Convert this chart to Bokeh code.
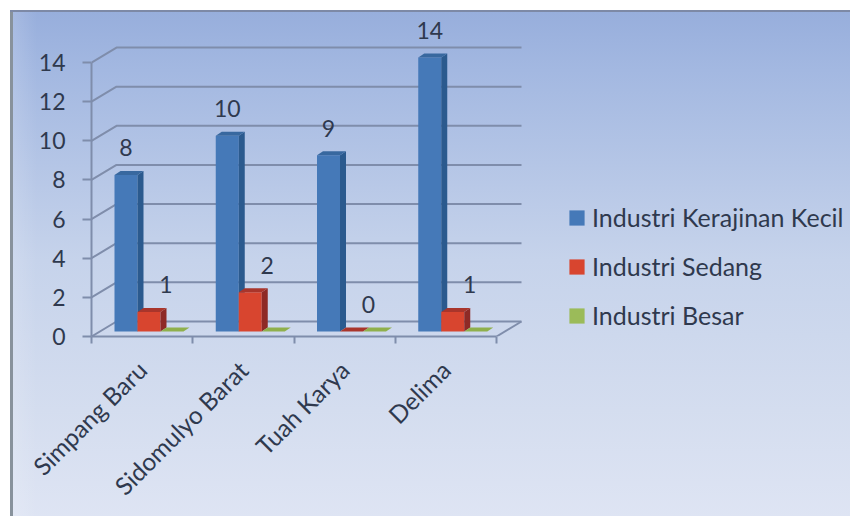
import numpy as np
from bokeh.core.properties import value
from bokeh.embed import file_html
from bokeh.models import FixedTicker, Legend, LegendItem, Range1d
from bokeh.plotting import figure
from bokeh.resources import INLINE

categories = ["Simpang Baru", "Sidomulyo Barat", "Tuah Karya", "Delima"]
kecil = [8, 10, 9, 14]
sedang = [1, 2, 0, 1]
besar = [0, 0, 0, 0]
series_names = ["Industri Kerajinan Kecil", "Industri Sedang", "Industri Besar"]
y_ticks = [0, 2, 4, 6, 8, 10, 12, 14]

PX_X = 101.25
PX_Y = 19.57
FONT = "Lato"
TXT = "#2f394e"
GRID = "#7f8dab"

W, H = 850, 516
LEFT, BOTTOM_Y = 91, 336

p = figure(width=W, height=H, output_backend="svg", toolbar_location=None,
           x_range=Range1d(0, (W - LEFT) / PX_X), y_range=Range1d(0, BOTTOM_Y / PX_Y),
           min_border_left=LEFT, min_border_right=0, min_border_top=0, min_border_bottom=H - BOTTOM_Y)
p.outline_line_color = None
p.background_fill_color = None
p.border_fill_color = None
p.grid.visible = False

# chart-area background: top and left border lines, soft light left band, vertical gradient
p.styles = {"background":
            "linear-gradient(#7d89a6,#7d89a6) 10px 10px/840px 2px no-repeat,"
            "linear-gradient(#88929c,#88929c) 10px 10px/3px 506px no-repeat,"
            "linear-gradient(90deg,rgba(255,255,255,.14),rgba(255,255,255,0)) 13px 12px/24px 504px no-repeat,"
            "linear-gradient(180deg,#97aedc 0px,#a3b8e1 60px,#c6d3eb 250px,#d4ddef 400px,#dfe5f4 516px)"
            " 10px 10px/840px 506px no-repeat"}

n = len(categories)
centers = [i + 0.5 for i in range(n)]
boundaries = list(range(n + 1))

# axes
xa = p.xaxis[0]
xa.ticker = FixedTicker(ticks=centers, minor_ticks=boundaries)
xa.major_label_overrides = {c: name for c, name in zip(centers, categories)}
xa.major_label_orientation = np.pi / 4
xa.major_tick_line_color = None
xa.major_tick_in = 0
xa.major_tick_out = 0
xa.minor_tick_line_color = GRID
xa.minor_tick_line_width = 2
xa.minor_tick_in = 0
xa.minor_tick_out = 7
xa.bounds = (0, n)
xa.axis_line_color = GRID
xa.axis_line_width = 2
xa.major_label_text_font = FONT
xa.major_label_text_font_size = "24.5px"
xa.major_label_text_color = TXT
xa.major_label_standoff = 22

ya = p.yaxis[0]
ya.ticker = FixedTicker(ticks=y_ticks)
ya.bounds = (y_ticks[0], y_ticks[-1])
ya.major_tick_line_color = GRID
ya.major_tick_line_width = 2
ya.major_tick_in = 0
ya.major_tick_out = 9
ya.minor_tick_line_color = None
ya.axis_line_color = GRID
ya.axis_line_width = 2
ya.major_label_text_font = FONT
ya.major_label_text_font_size = "23px"
ya.major_label_text_color = TXT
ya.major_label_standoff = 17

# 3D depth of the box (walls) and of the bars
WALL_DX, WALL_DY = 25 / PX_X, 15 / PX_Y
BASE = 5 / PX_Y
BAR_W = 23 / PX_X
BAR_DX, BAR_DY = 6 / PX_X, 4 / PX_Y
BAR_OFF = 23 / PX_X

# walls: slanted side lines and gridlines on the back wall
xs = [[0, WALL_DX, n + WALL_DX] for _ in y_ticks]
ys = [[t, t + WALL_DY, t + WALL_DY] for t in y_ticks]
xs.append([n, n + WALL_DX])
ys.append([0, WALL_DY])
p.multi_line(xs, ys, line_color=GRID, line_width=2)


def bars(vals, k, front, side, top):
    x0 = [i + BAR_OFF * (k + 1) for i in range(len(vals))]
    x1 = [x + BAR_W for x in x0]
    t = [v + BASE for v in vals]
    b = [BASE] * len(vals)
    r = p.quad(left=x0, right=x1, bottom=b, top=t, fill_color=front, line_color=None)
    p.patches([[a, a + BAR_DX, a + BAR_DX, a] for a in x1],
              [[bb, bb + BAR_DY, tt + BAR_DY, tt] for bb, tt in zip(b, t)],
              fill_color=side, line_color=None)
    p.patches([[a, c, c + BAR_DX, a + BAR_DX] for a, c in zip(x0, x1)],
              [[tt, tt, tt + BAR_DY, tt + BAR_DY] for tt in t],
              fill_color=top, line_color=None)
    return r, x0


r_k, x_k = bars(kecil, 0, "#4579b8", "#2b5a8e", "#38689f")
r_s, x_s = bars(sedang, 1, "#d8452f", "#8e2a26", "#a9352b")
r_b, x_b = bars(besar, 2, "#9bbb59", "#7d9a44", "#8fb04c")

# data labels
LABEL_UP = 27 / PX_Y
p.text([x + BAR_W / 2 for x in x_k], [v + BASE + LABEL_UP for v in kecil], text=[str(v) for v in kecil],
       text_font=value(FONT), text_font_size="23px", text_color=TXT, text_align="center", text_baseline="middle")
p.text([x + BAR_W / 2 + 17 / PX_X for x in x_s], [v + BASE + LABEL_UP for v in sedang], text=[str(v) for v in sedang],
       text_font=value(FONT), text_font_size="23px", text_color=TXT, text_align="center", text_baseline="middle")

legend = Legend(items=[LegendItem(label=series_names[0], renderers=[r_k]),
                       LegendItem(label=series_names[1], renderers=[r_s]),
                       LegendItem(label=series_names[2], renderers=[r_b])],
                location=(476, 6), orientation="vertical", background_fill_alpha=0, border_line_color=None,
                padding=0, margin=0, spacing=19, glyph_width=19, glyph_height=19, label_standoff=6,
                label_text_font=FONT, label_text_font_size="25px", label_text_color=TXT, label_height=30)
p.add_layout(legend, "center")

open("out.html", "w").write(file_html(p, INLINE))
